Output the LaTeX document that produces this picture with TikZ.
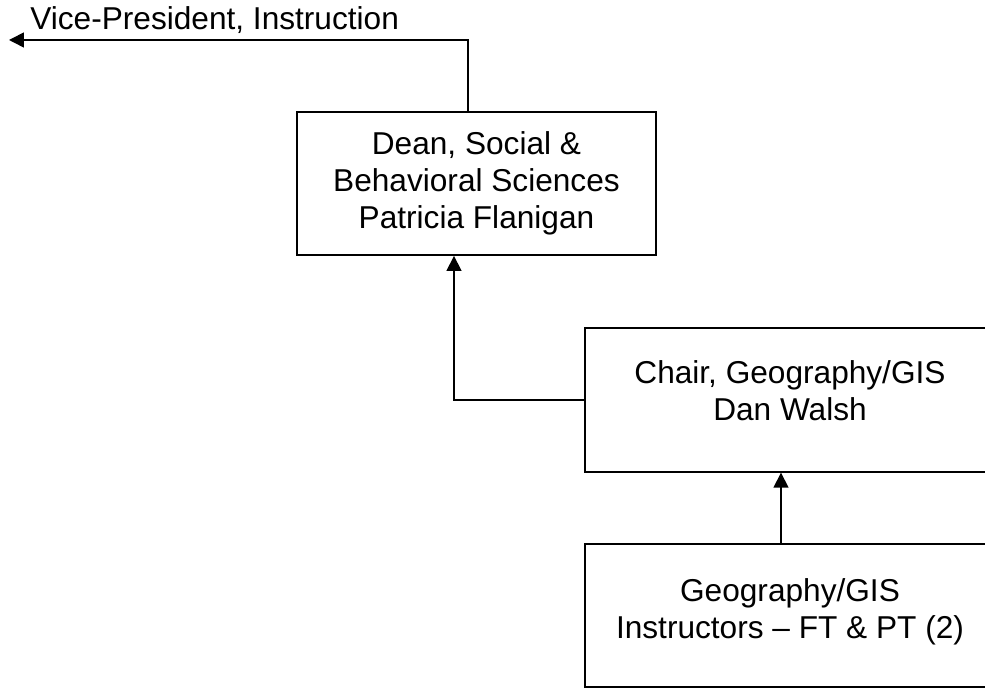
\documentclass[tikz,border=0pt]{standalone}
\usepackage{fontspec}
\setmainfont{Liberation Sans}
\usetikzlibrary{arrows.meta,positioning}

\begin{document}
\begin{tikzpicture}[
  x=0.02cm, y=-0.02cm,
  font=\fontsize{18}{21}\selectfont,
  box/.style={draw, line width=1.1pt, align=center, inner sep=0pt},
  deanbox/.style={box, minimum width=7.18cm, minimum height=2.86cm},
  deptbox/.style={box, minimum width=8.2cm, minimum height=2.87cm},
  arrow/.style={-{Triangle[length=8.5pt, width=8.5pt]}, line width=0.9pt},
]
\clip (0,0) rectangle (985,688);

\node[deanbox] (dean) at (476.5,183.5) {Dean, Social \&\\Behavioral Sciences\\Patricia Flanigan};
\node[deptbox] (chair) at (790,400) {Chair, Geography/GIS\\Dan Walsh\\[-0.36cm]};
\node[deptbox] (instr) at (790,615.5) {Geography/GIS\\Instructors -- FT \& PT (2)\\[-0.46cm]};

\node[anchor=base west, inner sep=0pt] (vp) at (30,30) {Vice-President, Instruction};
\coordinate (vptip) at (9,40);

\draw[arrow] ([xshift=-0.17cm]dean.north) |- (vptip);
\draw[arrow] (chair.west) -| ([xshift=-0.45cm]dean.south);
\draw[arrow] ([xshift=-0.18cm]instr.north) -- ([xshift=-0.18cm]chair.south);
\end{tikzpicture}
\end{document}
